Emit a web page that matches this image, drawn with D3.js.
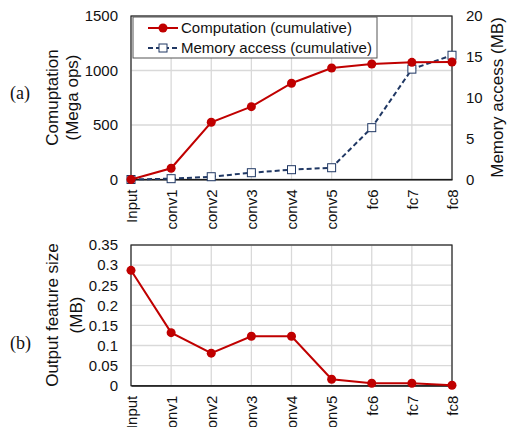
<!DOCTYPE html>
<html><head><meta charset="utf-8">
<script src="https://cdn.jsdelivr.net/npm/d3@7"></script>
<style>body{margin:0;background:#fff;overflow:hidden}svg{display:block;font-family:"Liberation Sans",Arial,sans-serif}</style>
</head><body><svg id="c" width="507" height="427"></svg>
<script>
const categories = ["Input","conv1","conv2","conv3","conv4","conv5","fc6","fc7","fc8"];
const computation = [0,103,525,668,883,1023,1060,1075,1078];
const memoryAccess = [0,0.1,0.34,0.83,1.2,1.44,6.34,13.5,15.2];
const featureSize = [0.287,0.132,0.081,0.123,0.123,0.016,0.006,0.006,0.001];
const compTicks = [0,500,1000,1500];
const memTicks = [0,5,10,15,20];
const featTicks = [0,0.05,0.1,0.15,0.2,0.25,0.3,0.35];

const svg = d3.select("#c");
const RED = "#C00000", BLUE = "#203864", GRID = "#d9d9d9";
const FS = 15;

const x = d3.scalePoint().domain(categories).range([131, 452]);

function panel(y, ticks, top, bottom, fmt) {
  const g = svg.append("g");
  // grid
  g.selectAll(".hg").data(ticks).join("line")
    .attr("x1", 131).attr("x2", 452).attr("y1", d => y(d)).attr("y2", d => y(d))
    .attr("stroke", GRID).attr("stroke-width", 1.3);
  g.selectAll(".vg").data(categories).join("line")
    .attr("x1", d => x(d)).attr("x2", d => x(d)).attr("y1", top).attr("y2", bottom)
    .attr("stroke", GRID).attr("stroke-width", 1.3);
  // frame
  g.append("rect").attr("x", 131).attr("y", top).attr("width", 321).attr("height", bottom - top)
    .attr("fill", "none").attr("stroke", "#222").attr("stroke-width", 1.2);
  // left axis
  const ax = g.append("g").attr("transform", "translate(131,0)")
    .call(d3.axisLeft(y).tickValues(ticks).tickSize(0).tickPadding(13).tickFormat(fmt));
  ax.select(".domain").remove();
  ax.selectAll("text").attr("font-size", FS).attr("fill", "#111").attr("font-family", "Liberation Sans, Arial, sans-serif");
  // bottom axis
  const bx = g.append("g").attr("transform", `translate(0,${bottom})`)
    .call(d3.axisBottom(x).tickSize(0));
  bx.select(".domain").attr("stroke", "#111");
  bx.selectAll("text").attr("font-size", FS).attr("fill", "#111").attr("font-family", "Liberation Sans, Arial, sans-serif")
    .attr("transform", "rotate(-90)").attr("text-anchor", "end")
    .attr("x", -10).attr("y", 0).attr("dy", "0.35em");
  return g;
}

// Panel (a)
const yC = d3.scaleLinear().domain([0, 1500]).range([179.5, 16]);
const yM = d3.scaleLinear().domain([0, 20]).range([179.5, 16]);
const pa = panel(yC, compTicks, 16, 179.5, d3.format("d"));
const rx = pa.append("g").attr("transform", "translate(452,0)")
  .call(d3.axisRight(yM).tickValues(memTicks).tickSize(0).tickPadding(14));
rx.select(".domain").remove();
rx.selectAll("text").attr("font-size", FS).attr("fill", "#111").attr("font-family", "Liberation Sans, Arial, sans-serif");

// legend
const lg = svg.append("g");
lg.append("rect").attr("x", 133).attr("y", 17).attr("width", 244).attr("height", 41)
  .attr("fill", "#fff").attr("stroke", "#555").attr("stroke-width", 1);
lg.append("line").attr("x1", 148).attr("x2", 178).attr("y1", 28).attr("y2", 28).attr("stroke", RED).attr("stroke-width", 2);
lg.append("circle").attr("cx", 163).attr("cy", 28).attr("r", 4.5).attr("fill", RED);
lg.append("text").attr("x", 181).attr("y", 28).attr("dy", "0.35em").attr("font-size", FS).attr("fill", "#111").text("Computation (cumulative)");
lg.append("line").attr("x1", 148).attr("x2", 178).attr("y1", 48).attr("y2", 48).attr("stroke", BLUE).attr("stroke-width", 2).attr("stroke-dasharray", "5,3");
lg.append("rect").attr("x", 159).attr("y", 44).attr("width", 8).attr("height", 8).attr("fill", "#fff").attr("stroke", BLUE).attr("stroke-width", 1);
lg.append("text").attr("x", 181).attr("y", 48).attr("dy", "0.35em").attr("font-size", FS).attr("fill", "#111").text("Memory access (cumulative)");

// memory series
const memLine = d3.line().x((d, i) => x(categories[i])).y(d => yM(d));
svg.append("path").datum(memoryAccess).attr("d", memLine).attr("fill", "none")
  .attr("stroke", BLUE).attr("stroke-width", 2).attr("stroke-dasharray", "5,3");
svg.selectAll(".mm").data(memoryAccess).join("rect")
  .attr("x", (d, i) => x(categories[i]) - 4).attr("y", d => yM(d) - 4)
  .attr("width", 8).attr("height", 8).attr("fill", "#fff").attr("stroke", BLUE).attr("stroke-width", 1);
// computation series
const compLine = d3.line().x((d, i) => x(categories[i])).y(d => yC(d));
svg.append("path").datum(computation).attr("d", compLine).attr("fill", "none")
  .attr("stroke", RED).attr("stroke-width", 2);
svg.selectAll(".cm").data(computation).join("circle")
  .attr("cx", (d, i) => x(categories[i])).attr("cy", d => yC(d)).attr("r", 4.5).attr("fill", RED);

// axis titles (a)
function vtext(tx, ty, txt, size) {
  svg.append("text").attr("transform", `translate(${tx},${ty}) rotate(-90)`)
    .attr("text-anchor", "middle").attr("dy", "0.35em").attr("font-size", size).attr("fill", "#111").text(txt);
}
vtext(52, 97.5, "Comuptation", 17);
vtext(72, 97.5, "(Mega ops)", 17);
vtext(497, 97.5, "Memory access (MB)", 17);
svg.append("text").attr("x", 10).attr("y", 93).attr("dy", "0.35em").attr("font-family", "Liberation Serif, Times New Roman, serif")
  .attr("font-size", 18).attr("fill", "#111").text("(a)");

// Panel (b)
const yF = d3.scaleLinear().domain([0, 0.35]).range([385.7, 245]);
panel(yF, featTicks, 245, 385.7, d => d === 0 ? "0" : String(+d.toFixed(2)));
const fLine = d3.line().x((d, i) => x(categories[i])).y(d => yF(d));
svg.append("path").datum(featureSize).attr("d", fLine).attr("fill", "none")
  .attr("stroke", RED).attr("stroke-width", 2);
svg.selectAll(".fm").data(featureSize).join("circle")
  .attr("cx", (d, i) => x(categories[i])).attr("cy", d => yF(d)).attr("r", 4.5).attr("fill", RED);
vtext(52, 315, "Output feature size", 17);
vtext(76, 315, "(MB)", 17);
svg.append("text").attr("x", 10).attr("y", 343).attr("dy", "0.35em").attr("font-family", "Liberation Serif, Times New Roman, serif")
  .attr("font-size", 18).attr("fill", "#111").text("(b)");
</script></body></html>
